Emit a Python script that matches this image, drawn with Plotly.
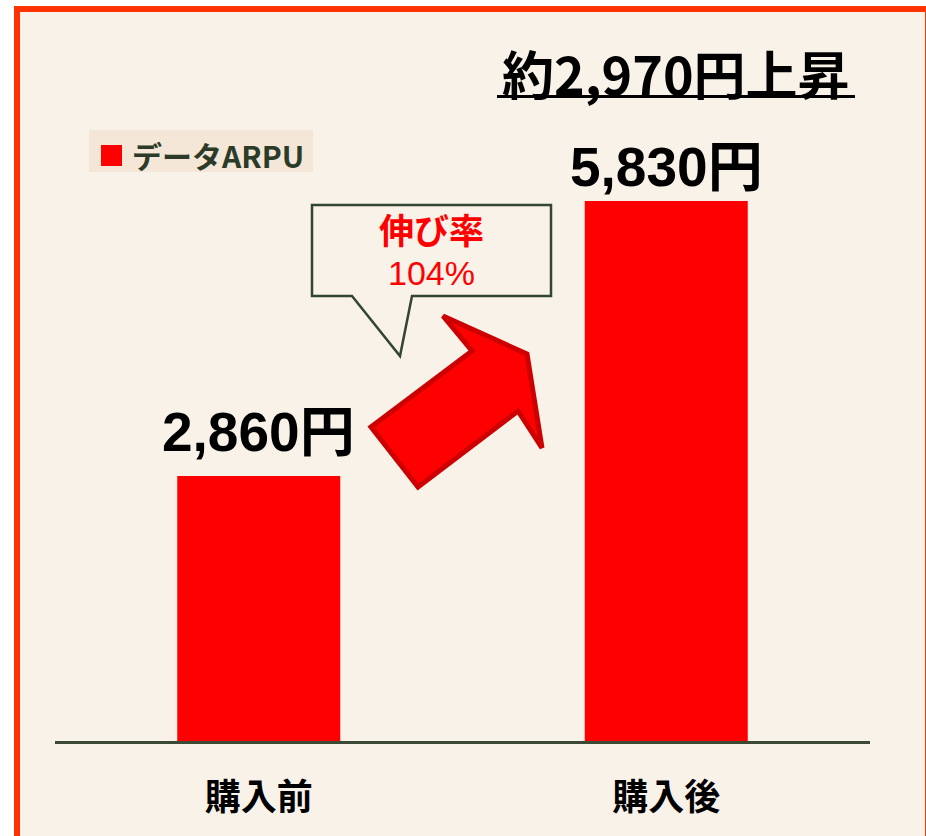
import plotly.graph_objects as go

# ---- data ----
categories = ["購入前", "購入後"]
arpu_values = [2860, 5830]
series_name = "データARPU"
title_text = "約2,970円上昇"
growth_label = "伸び率"
growth_value = "104%"

# ---- layout geometry (pixels) ----
W, H = 926, 836
ML, MR, MT, MB = 55, 56, 100, 95
PW = W - ML - MR
PH = H - MT - MB
BASE_Y = H - MB
YMAX = 5830 * PH / 540.0

BG = "#F9F2E9"
RED = "#FF0000"


def px(x):
    return (x - ML) / PW


def py(y):
    return (BASE_Y - y) / PH


def path(points):
    return "M " + " L ".join(f"{px(x):.5f},{py(y):.5f}" for x, y in points) + " Z"


fig = go.Figure()
fig.add_trace(go.Bar(
    x=categories, y=arpu_values, name=series_name,
    marker=dict(color=RED, line=dict(width=0)),
    width=0.4, showlegend=False,
    hovertemplate="%{x}: %{y:,}円<extra></extra>",
))

shapes = []
# outer frame
shapes.append(dict(type="rect", xref="paper", yref="paper", layer="below",
                   x0=px(17), x1=px(928), y0=py(9), y1=py(850),
                   line=dict(color="#FF3300", width=6), fillcolor=BG))
# legend box
shapes.append(dict(type="rect", xref="paper", yref="paper", layer="below",
                   x0=px(89), x1=px(313), y0=py(130), y1=py(172),
                   line=dict(width=0), fillcolor="#F4E7D7"))
shapes.append(dict(type="rect", xref="paper", yref="paper",
                   x0=px(101), x1=px(122), y0=py(145), y1=py(166),
                   line=dict(width=0), fillcolor=RED))
# title underline
shapes.append(dict(type="line", xref="paper", yref="paper",
                   x0=px(497), x1=px(855), y0=py(96.5), y1=py(96.5),
                   line=dict(color="black", width=3)))
# callout balloon
shapes.append(dict(type="path", xref="paper", yref="paper",
                   path=path([(312, 205), (551, 205), (551, 296), (412, 296),
                              (400, 356), (352, 296), (312, 296)]),
                   line=dict(color="#344530", width=2.5), fillcolor=BG))
# arrow
shapes.append(dict(type="path", xref="paper", yref="paper",
                   path=path([(371, 427), (418, 487), (518, 411), (542, 448),
                              (527, 354), (443, 316), (472, 351)]),
                   line=dict(color="#CC0000", width=5), fillcolor=RED))

label_shift = [44, 34]
annotations = []
for cat, val, sh in zip(categories, arpu_values, label_shift):
    annotations.append(dict(x=cat, y=val, xref="x", yref="y",
                            xanchor="center", yanchor="middle",
                            yshift=sh, showarrow=False,
                            text=f"{val:,}円",
                            font=dict(family="Liberation Sans, Noto Sans CJK JP",
                                      size=55, color="black", weight="bold")))
annotations += [
    dict(x=px(676), y=py(72), xref="paper", yref="paper", showarrow=False,
         xanchor="center", yanchor="middle", text=title_text,
         font=dict(family="Noto Sans CJK JP", size=52, color="black", weight="bold")),
    dict(x=px(130), y=py(155), xref="paper", yref="paper", xanchor="left",
         yanchor="middle", showarrow=False, text=series_name,
         font=dict(family="Noto Sans CJK JP", size=30, color="#2B3B28", weight="bold")),
    dict(x=px(431), y=py(228), xref="paper", yref="paper", showarrow=False,
         xanchor="center", yanchor="middle", text=growth_label,
         font=dict(family="Noto Sans CJK JP", size=35, color=RED, weight="bold")),
    dict(x=px(431), y=py(273), xref="paper", yref="paper", showarrow=False,
         xanchor="center", yanchor="middle", text=growth_value,
         font=dict(family="Liberation Sans", size=34, color=RED)),
]

fig.update_layout(
    width=W, height=H,
    margin=dict(l=ML, r=MR, t=MT, b=MB, pad=0),
    paper_bgcolor="white", plot_bgcolor="rgba(0,0,0,0)",
    shapes=shapes, annotations=annotations,
    xaxis=dict(range=[-0.5, 1.5], showgrid=False, zeroline=False,
               showline=True, linecolor="#3A4A35", linewidth=2.5,
               ticks="outside", ticklen=23, tickcolor="rgba(0,0,0,0)",
               tickfont=dict(family="Noto Sans CJK JP", size=36, color="black",
                             weight="bold"),
               fixedrange=True),
    yaxis=dict(range=[0, YMAX], visible=False, showgrid=False, fixedrange=True),
)

fig.write_html(
    "out.html",
    config={"displayModeBar": False},
    post_script="document.body.style.margin='0';document.body.style.overflow='hidden';",
)
